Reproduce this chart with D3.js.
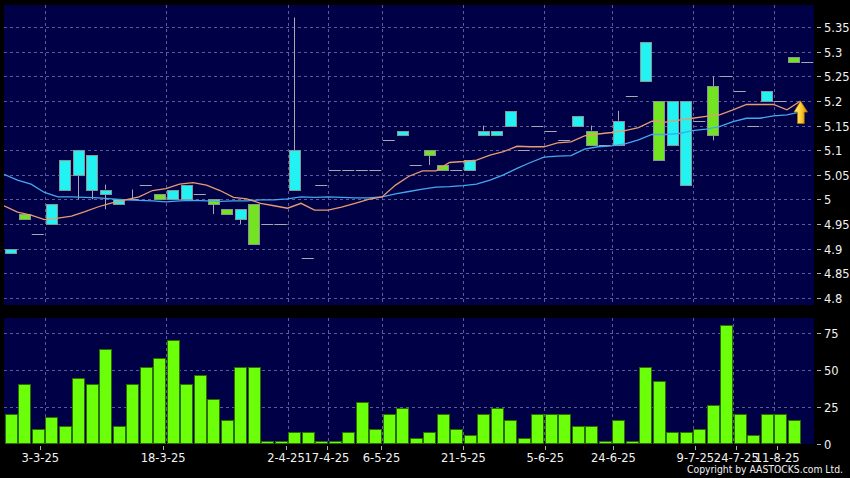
<!DOCTYPE html>
<html><head><meta charset="utf-8">
<script src="https://cdn.jsdelivr.net/npm/d3@7"></script>
<style>html,body{margin:0;padding:0;background:#000;} svg{display:block;}</style>
</head><body>
<script>
// ---------- data ----------
const labelIdx  = [2, 11, 20, 23, 27, 33, 39, 44, 50, 53, 56];
const labelText = ["3-3-25","18-3-25","2-4-25","17-4-25","6-5-25","21-5-25","5-6-25","24-6-25","9-7-25","24-7-25","11-8-25"];

const openP = [4.89,4.97,4.93,4.95,5.02,5.05,5.02,5.01,4.99,5.00,
  5.03,5.01,5.00,5.00,5.01,5.00,4.98,4.96,4.99,4.95,
  4.95,5.02,4.88,5.03,5.06,5.06,5.06,5.06,5.12,5.13,
  5.07,5.10,5.07,5.06,5.06,5.13,5.13,5.15,5.10,5.15,
  5.14,5.12,5.15,5.14,5.11,5.11,5.21,5.24,5.20,5.11,
  5.03,5.16,5.23,5.25,5.22,5.15,5.20,5.20,5.29,5.28];
const highP = [4.90,4.97,4.93,4.99,5.08,5.10,5.09,5.03,5.00,5.02,
  5.03,5.01,5.02,5.03,5.01,5.00,4.98,4.98,4.99,4.95,
  4.95,5.37,4.88,5.03,5.06,5.06,5.06,5.06,5.12,5.14,
  5.07,5.10,5.07,5.06,5.08,5.15,5.14,5.18,5.10,5.15,
  5.14,5.12,5.17,5.15,5.11,5.18,5.21,5.32,5.20,5.20,
  5.20,5.16,5.25,5.25,5.22,5.15,5.22,5.20,5.29,5.28];
const lowP = [4.89,4.96,4.93,4.95,5.02,5.00,5.00,4.98,4.99,5.00,
  5.03,5.00,5.00,5.00,5.01,4.97,4.97,4.95,4.91,4.95,
  4.95,5.02,4.88,5.03,5.06,5.06,5.06,5.06,5.12,5.13,
  5.07,5.07,5.06,5.06,5.06,5.13,5.13,5.15,5.10,5.15,
  5.14,5.12,5.15,5.11,5.11,5.11,5.21,5.24,5.08,5.11,
  5.03,5.16,5.12,5.25,5.22,5.15,5.20,5.20,5.28,5.28];
const closeP = [4.90,4.96,4.93,4.99,5.08,5.10,5.09,5.02,5.00,5.00,
  5.03,5.00,5.02,5.03,5.01,4.99,4.97,4.98,4.91,4.95,
  4.95,5.10,4.88,5.03,5.06,5.06,5.06,5.06,5.12,5.14,
  5.07,5.09,5.06,5.06,5.08,5.14,5.14,5.18,5.10,5.15,
  5.14,5.12,5.17,5.11,5.11,5.16,5.21,5.32,5.08,5.20,
  5.20,5.16,5.13,5.25,5.22,5.15,5.22,5.20,5.28,5.28];

const volume = [20,40,10,18,12,44,40,64,12,40,
  52,58,70,40,46,30,16,52,52,2,
  2,8,8,2,2,8,28,10,20,24,
  4,8,20,10,6,20,24,16,4,20,
  20,20,12,12,2,16,2,52,42,8,
  8,10,26,80,20,6,20,20,16,null];

const ma10 = [4.987,4.974,4.968,4.959,4.962,4.966,4.975,4.985,4.993,4.999,
  5.005,5.018,5.022,5.031,5.034,5.029,5.018,5.004,5.001,4.992,
  4.987,4.982,4.992,4.978,4.978,4.984,4.992,5.000,5.005,5.029,
  5.047,5.058,5.058,5.075,5.077,5.080,5.090,5.097,5.108,5.107,
  5.107,5.115,5.117,5.129,5.133,5.136,5.140,5.146,5.159,5.157,
  5.161,5.165,5.169,5.172,5.182,5.193,5.193,5.193,5.182,5.200];
const ma20 = [5.051,5.039,5.031,5.014,5.005,5.005,5.004,5.003,5.001,4.999,
  4.998,4.997,4.995,4.997,4.998,4.997,4.996,4.997,4.997,4.999,
  4.999,5.001,5.005,5.004,5.005,5.004,5.003,5.003,5.005,5.011,
  5.016,5.021,5.025,5.026,5.028,5.031,5.039,5.050,5.063,5.075,
  5.086,5.088,5.089,5.102,5.107,5.109,5.113,5.121,5.132,5.132,
  5.134,5.140,5.143,5.148,5.158,5.165,5.165,5.170,5.172,5.178];

const priceTicks = [4.8,4.85,4.9,4.95,5,5.05,5.1,5.15,5.2,5.25,5.3,5.35];
const volTicks = [0,25,50,75];

// ---------- drawing ----------
const W = 850, H = 478;
const L = 4, R = 814;
const pTop = 5, pBot = 305, vTop = 318, vBot = 444;
const N = openP.length;

const svg = d3.select("body").append("svg").attr("width", W).attr("height", H)
  .style("background", "#000");

const x = d3.scaleBand().domain(d3.range(N)).range([L, R]).padding(0);
const cx = i => x(i) + x.bandwidth() / 2;
const xLab = d3.scaleLinear().domain([0, 59]).range([13.0, 818.2]);
const y = d3.scaleLinear().domain([4.8, 5.35]).range([297.7, 27.3]);
const yv = d3.scaleLinear().domain([0, 75]).range([443.5, 332.5]);

const navy = "#000046";
const gridCol = "#5c5c92";
const txtCol = "#f2f2f2";
const font = "DejaVu Sans, Verdana, sans-serif";

// panels
svg.append("rect").attr("x", L).attr("y", pTop).attr("width", R - L).attr("height", pBot - pTop).attr("fill", navy);
svg.append("rect").attr("x", L).attr("y", vTop).attr("width", R - L).attr("height", vBot - vTop).attr("fill", navy);

const defs = svg.append("defs");
defs.append("clipPath").attr("id", "pclip").append("rect")
  .attr("x", L).attr("y", pTop).attr("width", R - L).attr("height", pBot - pTop);
const grad = defs.append("linearGradient").attr("id", "arrowGrad")
  .attr("x1", "0").attr("x2", "1").attr("y1", "0").attr("y2", "0");
grad.append("stop").attr("offset", "0").attr("stop-color", "#fff6a0");
grad.append("stop").attr("offset", "0.45").attr("stop-color", "#ffd23a");
grad.append("stop").attr("offset", "1").attr("stop-color", "#d89000");

// grids
const gP = svg.append("g");
priceTicks.forEach(t => {
  const yy = Math.round(y(t)) + 0.5;
  gP.append("line").attr("x1", L).attr("x2", R).attr("y1", yy).attr("y2", yy)
    .attr("stroke", gridCol).attr("stroke-dasharray", "3,3").attr("stroke-width", 1);
});
volTicks.filter(t => t > 0).forEach(t => {
  const yy = Math.round(yv(t)) + 0.5;
  gP.append("line").attr("x1", L).attr("x2", R).attr("y1", yy).attr("y2", yy)
    .attr("stroke", gridCol).attr("stroke-dasharray", "3,3").attr("stroke-width", 1);
});
labelIdx.forEach(i => {
  const xx = Math.round(x(i) + x.bandwidth()) + 0.5;
  gP.append("line").attr("x1", xx).attr("x2", xx).attr("y1", pTop).attr("y2", pBot)
    .attr("stroke", gridCol).attr("stroke-dasharray", "3,3");
  gP.append("line").attr("x1", xx).attr("x2", xx).attr("y1", vTop).attr("y2", vBot)
    .attr("stroke", gridCol).attr("stroke-dasharray", "3,3");
});

// candles
const gC = svg.append("g").attr("clip-path", "url(#pclip)");
const wickCol = "#a8a8b0";
for (let i = 0; i < N; i++) {
  const o = openP[i], c = closeP[i], h = highP[i], l = lowP[i];
  const xc = Math.round(cx(i)) + 0.5;
  const top = Math.max(o, c), bot = Math.min(o, c);
  if (h > top) gC.append("line").attr("x1", xc).attr("x2", xc).attr("y1", y(h)).attr("y2", y(top)).attr("stroke", wickCol);
  if (l < bot) gC.append("line").attr("x1", xc).attr("x2", xc).attr("y1", y(bot)).attr("y2", y(l)).attr("stroke", wickCol);
  if (o === c) {
    const yy = Math.round(y(c)) + 0.5;
    gC.append("line").attr("x1", cx(i) - 6).attr("x2", cx(i) + 6).attr("y1", yy).attr("y2", yy)
      .attr("stroke", wickCol).attr("stroke-width", 1);
  } else {
    const up = c > o;
    const y1 = Math.round(y(top)) + 0.5, y2 = Math.round(y(bot)) + 0.5;
    gC.append("rect").attr("x", Math.round(cx(i) - 5.5) + 0.5).attr("y", y1)
      .attr("width", 11).attr("height", Math.max(1, y2 - y1))
      .attr("fill", up ? "#22f2f2" : "#72e422")
      .attr("stroke", "#8a9696").attr("stroke-width", 1);
  }
}

// moving averages (plotted at slot start)
const lineGen = d3.line().x((d, i) => x(i)).y(d => y(d));
gC.append("path").datum(ma20).attr("d", lineGen).attr("fill", "none")
  .attr("stroke", "#44a8ee").attr("stroke-width", 1.3);
gC.append("path").datum(ma10).attr("d", lineGen).attr("fill", "none")
  .attr("stroke", "#e89a70").attr("stroke-width", 1.3);

// arrow at last MA10 point
const ax = x(N - 1), ay = y(ma10[N - 1]);
const arrowPts = [[0, 0], [7, 11], [3.7, 11], [3.7, 22.5], [-3, 22.5], [-3, 11], [-6.5, 11]];
svg.append("path")
  .attr("d", "M" + arrowPts.map(p => (ax + p[0]) + "," + (ay + p[1])).join("L") + "Z")
  .attr("fill", "url(#arrowGrad)").attr("stroke", "#b07800").attr("stroke-width", 0.8);

// volume bars
const gV = svg.append("g");
volume.forEach((v, i) => {
  if (v == null) return;
  const y0 = Math.round(yv(v)) + 0.5;
  gV.append("rect").attr("x", Math.round(cx(i) - 6) + 0.5).attr("y", y0)
    .attr("width", 12).attr("height", Math.max(1, yv(0) - y0))
    .attr("fill", "#6cff0a").attr("stroke", "#2b6e00").attr("stroke-width", 1);
});

// right axes
const gA = svg.append("g").attr("font-family", font).attr("font-size", 11.5).attr("fill", txtCol);
priceTicks.forEach(t => {
  const yy = Math.round(y(t)) + 0.5;
  gA.append("line").attr("x1", 817).attr("x2", 821).attr("y1", yy).attr("y2", yy).attr("stroke", "#b0b0b0");
  gA.append("text").attr("x", 824).attr("y", yy + 4.2).text(d3.format("")(t));
});
volTicks.forEach(t => {
  const yy = Math.round(yv(t)) + 0.5;
  gA.append("line").attr("x1", 817).attr("x2", 821).attr("y1", yy).attr("y2", yy).attr("stroke", "#b0b0b0");
  gA.append("text").attr("x", 824).attr("y", yy + 4.2).text(t);
});

// x axis labels
labelIdx.forEach((i, k) => {
  const xx = Math.round(xLab(i)) + 0.5;
  gA.append("line").attr("x1", xx).attr("x2", xx).attr("y1", 446).attr("y2", 450).attr("stroke", "#b0b0b0");
  gA.append("text").attr("x", xLab(i)).attr("y", 462).attr("text-anchor", "middle").text(labelText[k]);
});

// copyright
svg.append("text").attr("x", 687).attr("y", 473).attr("font-family", font).attr("font-size", 10)
  .attr("fill", txtCol).attr("textLength", 156).attr("lengthAdjust", "spacingAndGlyphs")
  .text("Copyright by AASTOCKS.com Ltd.");
</script>
</body></html>
